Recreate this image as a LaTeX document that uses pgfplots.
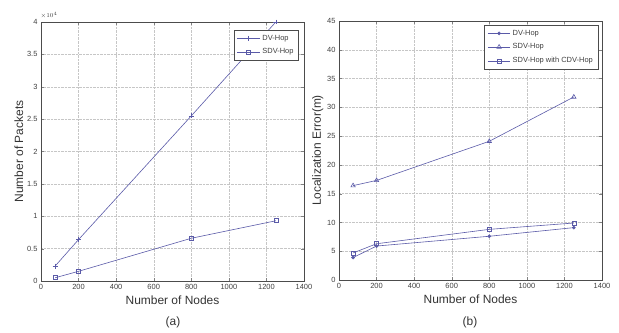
\documentclass[border=0pt]{standalone}
\usepackage{pgfplots}
\pgfplotsset{compat=1.18}
\usepackage{fontspec}
\setmainfont{Liberation Sans}
\definecolor{ln}{HTML}{5A5AA8}
\begin{document}
\begin{tikzpicture}
\useasboundingbox (0bp,0bp) rectangle (619bp,333bp);
\pgfplotsset{
  every axis/.append style={
    scale only axis,
    xmin=0, xmax=1400,
    xtick={0,200,...,1400},
    xticklabels={0,200,400,600,800,1000,1200,1400},
    grid=major,
    major grid style={densely dotted, gray!45},
    tick label style={font=\fontsize{7.5}{8}\selectfont, text=black!75},
    label style={font=\fontsize{12}{13}\selectfont, text=black!80},
    tick align=inside,
    major tick length=3bp,
    axis line style={black!70},
    /pgf/number format/assume math mode=true,
    legend style={font=\fontsize{7.5}{8}\selectfont, draw=black!70, text=black!75, row sep=3pt, inner sep=3pt},
    legend cell align=left,
    legend image code/.code={\draw[mark repeat=2,mark phase=2] plot coordinates {(0cm,0cm) (0.4cm,0cm) (0.8cm,0cm)};},
  }
}
\begin{axis}[
  at={(41bp,52bp)}, anchor=south west,
  width=263bp, height=259bp,
  ymin=0, ymax=40000,
  ytick={0,5000,...,40000},
  scaled y ticks=false,
  yticklabels={0,0.5,1,1.5,2,2.5,3,3.5,4},
  xlabel={Number of Nodes},
  ylabel={Number of Packets},
  xlabel style={yshift=1bp},
  ylabel style={yshift=-3bp},
  legend style={at={(0.98,0.97)}, anchor=north east},
]
\addplot[ln, semithick, mark=+, mark size=2.5pt] coordinates {(75,2300) (200,6400) (800,25500) (1250,40000)};
\addlegendentry{DV-Hop}
\addplot[ln, semithick, mark=square, mark size=2pt] coordinates {(75,500) (200,1500) (800,6600) (1250,9300)};
\addlegendentry{SDV-Hop}
\end{axis}
\node[font=\fontsize{6}{6}\selectfont, text=black!75, anchor=south west] at (37bp,311bp) {$\times10^{4}$};
\node[font=\fontsize{12}{13}\selectfont, text=black!80] at (173bp,11bp) {(a)};
\begin{axis}[
  at={(339bp,53bp)}, anchor=south west,
  width=263bp, height=259bp,
  ymin=0, ymax=45,
  ytick={0,5,...,45},
  xlabel={Number of Nodes},
  ylabel={Localization Error(m)},
  xlabel style={yshift=1bp},
  ylabel style={yshift=-3bp},
  legend style={at={(0.985,0.985)}, anchor=north east},
]
\addplot[ln, semithick, mark=*, mark size=1.5pt] coordinates {(75,3.9) (200,5.9) (800,7.6) (1250,9.1)};
\addlegendentry{DV-Hop}
\addplot[ln, semithick, mark=triangle, mark size=2.5pt] coordinates {(75,16.4) (200,17.3) (800,24.1) (1250,31.8)};
\addlegendentry{SDV-Hop}
\addplot[ln, semithick, mark=square, mark size=2pt] coordinates {(75,4.7) (200,6.3) (800,8.8) (1250,9.9)};
\addlegendentry{SDV-Hop with CDV-Hop}
\end{axis}
\node[font=\fontsize{12}{13}\selectfont, text=black!80] at (470bp,11bp) {(b)};
\end{tikzpicture}
\end{document}
